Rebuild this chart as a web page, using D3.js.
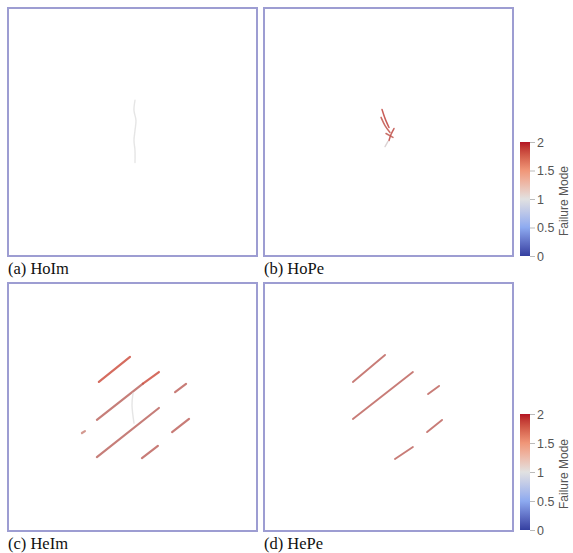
<!DOCTYPE html>
<html><head><meta charset="utf-8">
<script src="https://cdn.jsdelivr.net/npm/d3@7"></script>
<style>body{margin:0;background:#fff}</style>
</head><body>
<script>
// ---- data ----
const panelNames = ["(a) HoIm", "(b) HoPe", "(c) HeIm", "(d) HePe"];
const colorbarTicks = [0, 0.5, 1, 1.5, 2];
const colorbarTickLabels = ["0", "0.5", "1", "1.5", "2"];
const colorbarTitle = "Failure Mode";
// cracks: failure-mode value, shade (0 = lit, 1 = dim), points [x,y] in model units (0..1)
const cracksA = [
  {v: 1.0, s: 0.0, pts: [[0.510,0.628],[0.506,0.587],[0.514,0.547],[0.510,0.506],[0.506,0.466],[0.510,0.425],[0.510,0.377]]}
];
const cracksB = [
  {v: 1.9, s: 0.1, pts: [[0.474,0.591],[0.486,0.555],[0.502,0.518]]},
  {v: 1.85, s: 0.2, pts: [[0.470,0.559],[0.486,0.526],[0.506,0.498]]},
  {v: 1.9, s: 0.2, pts: [[0.522,0.514],[0.510,0.490],[0.502,0.466]]},
  {v: 1.85, s: 0.3, pts: [[0.490,0.494],[0.518,0.478]]},
  {v: 1.0, s: 0.2, pts: [[0.498,0.462],[0.486,0.441]]}
];
const cracksC = [
  {v: 1.8, s: 0.0, pts: [[0.365,0.601],[0.490,0.702]]},
  {v: 1.8, s: 0.5, pts: [[0.357,0.448],[0.542,0.594]]},
  {v: 1.8, s: 0.0, pts: [[0.542,0.594],[0.606,0.641]]},
  {v: 1.8, s: 0.5, pts: [[0.357,0.298],[0.606,0.496]]},
  {v: 1.8, s: 0.45, pts: [[0.671,0.560],[0.715,0.593]]},
  {v: 1.8, s: 0.45, pts: [[0.659,0.399],[0.727,0.452]]},
  {v: 1.8, s: 0.45, pts: [[0.538,0.294],[0.602,0.343]]},
  {v: 1.5, s: 0.5, pts: [[0.297,0.395],[0.309,0.403]]},
  {v: 1.0, s: 0.0, pts: [[0.502,0.556],[0.498,0.508],[0.506,0.435]]}
];
const cracksD = [
  {v: 1.8, s: 0.45, pts: [[0.357,0.601],[0.486,0.710]]},
  {v: 1.8, s: 0.45, pts: [[0.357,0.452],[0.598,0.641]]},
  {v: 1.8, s: 0.45, pts: [[0.659,0.552],[0.703,0.585]]},
  {v: 1.8, s: 0.45, pts: [[0.655,0.399],[0.715,0.448]]},
  {v: 1.8, s: 0.45, pts: [[0.526,0.290],[0.598,0.339]]}
];
const allCracks = [cracksA, cracksB, cracksC, cracksD];

// ---- layout ----
const W = 573, H = 553;
const svg = d3.select("body").append("svg").attr("width", W).attr("height", H);
const panelW = 249, panelH = 248;
const panelX = [8, 264, 8, 264], panelY = [8, 8, 283, 283];
const strokeW = [1.6, 1.5, 2.2, 1.9];

// Paraview cool-to-warm colormap
const cmap = d3.scaleLinear()
  .domain([0, 0.5, 1, 1.5, 2])
  .range(["rgb(52,64,160)", "rgb(141,170,240)", "rgb(225,225,225)", "rgb(240,150,120)", "rgb(180,20,35)"])
  .interpolate(d3.interpolateLab);

allCracks.forEach((cracks, i) => {
  const g = svg.append("g");
  const x = d3.scaleLinear().domain([0, 1]).range([panelX[i], panelX[i] + panelW]);
  const y = d3.scaleLinear().domain([0, 1]).range([panelY[i] + panelH, panelY[i]]);
  g.append("rect").attr("x", panelX[i]).attr("y", panelY[i])
    .attr("width", panelW).attr("height", panelH)
    .attr("fill", "#fff").attr("stroke", "#9d9dd2").attr("stroke-width", 2);
  const line = d3.line().x(d => x(d[0])).y(d => y(d[1])).curve(d3.curveCatmullRom);
  g.selectAll("path.crack").data(cracks).enter().append("path")
    .attr("class", "crack")
    .attr("d", d => line(d.pts))
    .attr("fill", "none")
    .attr("stroke", d => d3.interpolateLab(cmap(d.v), "rgb(165,120,130)")(d.s))
    .attr("stroke-width", d => d.v === 1.0 ? 1.4 : strokeW[i])
    .attr("stroke-linecap", "round")
    .attr("opacity", 0.85);
  svg.append("text").attr("x", panelX[i]).attr("y", panelY[i] + panelH + 18)
    .style("font-family", "'Liberation Serif', 'Times New Roman', serif")
    .style("font-size", "16.5px").attr("fill", "#111").text(panelNames[i]);
});

// ---- colorbars ----
const defs = svg.append("defs");
const grad = defs.append("linearGradient").attr("id", "cbgrad")
  .attr("x1", 0).attr("y1", 1).attr("x2", 0).attr("y2", 0);
d3.range(0, 2.0001, 0.1).forEach(v => {
  grad.append("stop").attr("offset", v / 2).attr("stop-color", cmap(v));
});
const cbars = [{top: 142, bottom: 256}, {top: 414, bottom: 530}];
cbars.forEach(cb => {
  const g = svg.append("g");
  const cy = d3.scaleLinear().domain([0, 2]).range([cb.bottom, cb.top]);
  g.append("rect").attr("x", 520).attr("y", cy(2)).attr("width", 10)
    .attr("height", cy(0) - cy(2)).attr("fill", "url(#cbgrad)");
  const axis = d3.axisRight(cy).tickValues(colorbarTicks)
    .tickFormat((d, k) => colorbarTickLabels[k]).tickSize(5).tickPadding(2);
  const ax = g.append("g").attr("transform", "translate(530,0)").call(axis);
  ax.select(".domain").remove();
  ax.selectAll("line").attr("stroke", "#bbb");
  ax.selectAll("text").style("font-family", "'Liberation Sans', Arial, sans-serif")
    .style("font-size", "12.5px").attr("fill", "#555");
  g.append("text")
    .attr("transform", `translate(568,${(cb.top + cb.bottom) / 2 + 2}) rotate(-90)`)
    .attr("text-anchor", "middle")
    .style("font-family", "'Liberation Sans', Arial, sans-serif")
    .style("font-size", "12px").attr("fill", "#555").text(colorbarTitle);
});
</script>
</body></html>
